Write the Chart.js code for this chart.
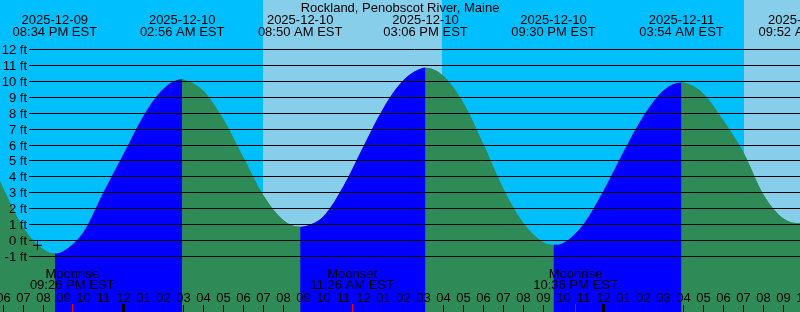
<!DOCTYPE html>
<html>
<head>
<meta charset="utf-8">
<script src="https://cdn.jsdelivr.net/npm/chart.js@4.4.1/dist/chart.umd.min.js"></script>
<style>
  html, body { margin: 0; padding: 0; background: #00bfff; }
  canvas { display: block; }
</style>
</head>
<body>
<canvas id="tideChart" width="800" height="312"></canvas>
<script>
// all times are hours after 2025-12-10 00:00 EST
const stationName = "Rockland, Penobscot River, Maine";

const tideHours = [-8, -7, -6, -5, -4, -3.433, -3, -2, -1, 0, 1, 2, 2.933,
  3, 4, 5, 6, 7, 8, 8.833, 9, 10, 11, 12, 13, 14, 15, 15.1,
  16, 17, 18, 19, 20, 21, 21.5, 22, 23, 24, 25, 26, 27, 27.9,
  28, 29, 30, 31, 32, 33, 33.867, 34];
const tideFeet = [8.35, 6.0, 3.2, 0.75, -0.6, -0.85, -0.7, 0.5, 3.0, 5.4, 7.8, 9.5, 10.1,
  10.09, 9.37, 7.57, 5.17, 2.8, 1.25, 0.83, 0.85, 1.5, 3.4, 5.9, 8.3, 10.05, 10.82, 10.83,
  10.3, 8.6, 6.0, 3.2, 1.05, -0.15, -0.3, -0.18, 1.0, 3.1, 5.55, 7.8, 9.4, 9.9,
  9.89, 9.18, 7.5, 5.5, 2.85, 1.35, 1.05, 1.07];

// high / low labels along the top
const extremeHours = [-3.433, 2.933, 8.833, 15.1, 21.5, 27.9, 33.867];
const extremeDates = ["2025-12-09", "2025-12-10", "2025-12-10", "2025-12-10", "2025-12-10", "2025-12-11", "2025-12-11"];
const extremeTimes = ["08:34 PM EST", "02:56 AM EST", "08:50 AM EST", "03:06 PM EST", "09:30 PM EST", "03:54 AM EST", "09:52 AM EST"];

const sunriseHours = [6.985, 31.02];
const sunsetHours = [15.935, 40];

const moonHours = [-2.567, 11.433, 22.6];
const moonEvents = ["Moonrise", "Moonset", "Moonrise"];
const moonTimes = ["09:26 PM EST", "11:26 AM EST", "10:36 PM EST"];

const feetTicks = [12, 11, 10, 9, 8, 7, 6, 5, 4, 3, 2, 1, 0, -1];
const firstHour = -6, lastHour = 34;

const nowMark = [{x: -4.3, y: -0.33}];

const NIGHT = "#00bfff", DAY = "#87ceeb";
const RISING = "#0000ff", FALLING = "#2e8b57";
const FONT = '13px "Liberation Sans", Arial, sans-serif';

function hourLabel(h) {
  const hh = ((h % 24) + 24) % 24;
  const v = (hh % 12) || 12;
  return (v < 10 ? "0" : "") + v;
}

const tideDecor = {
  id: "tideDecor",
  beforeDatasetsDraw(chart) {
    const {ctx, chartArea: a} = chart;
    const xs = chart.scales.x;
    ctx.save();
    ctx.fillStyle = NIGHT;
    ctx.fillRect(a.left, a.top, a.width, a.height);
    ctx.fillStyle = DAY;
    for (let i = 0; i < sunriseHours.length; i++) {
      const x0 = Math.round(xs.getPixelForValue(sunriseHours[i]));
      const x1 = Math.round(xs.getPixelForValue(sunsetHours[i]));
      ctx.fillRect(x0, a.top, x1 - x0, a.height);
    }
    ctx.restore();
  },
  afterDatasetsDraw(chart) {
    const {ctx, chartArea: a} = chart;
    const xs = chart.scales.x, ys = chart.scales.y;
    ctx.save();
    ctx.font = FONT;
    ctx.fillStyle = "#000";
    ctx.strokeStyle = "#000";
    ctx.lineWidth = 1;

    // foot lines and labels
    feetTicks.forEach(v => {
      const py = Math.round(ys.getPixelForValue(v)) + 0.5;
      ctx.beginPath();
      ctx.moveTo(29, py);
      ctx.lineTo(a.right, py);
      ctx.stroke();
      ctx.textAlign = "right";
      ctx.fillText(v + " ft", 27, Math.round(py + 4.5));
    });

    // title and tide extremes
    ctx.textAlign = "center";
    ctx.fillText(stationName, 400, 12);
    extremeHours.forEach((t, i) => {
      const px = xs.getPixelForValue(t);
      ctx.fillText(extremeDates[i], px, 24);
      ctx.fillText(extremeTimes[i], px, 36);
    });

    // moon events
    moonHours.forEach((t, i) => {
      const px = xs.getPixelForValue(t);
      ctx.fillText(moonEvents[i], px, 278);
      ctx.fillText(moonTimes[i], px, 289);
    });

    // hour ticks
    for (let h = firstHour; h <= lastHour; h++) {
      const col = Math.floor(xs.getPixelForValue(h));
      ctx.fillText(hourLabel(h), col + 0.5, 302);
      if (h % 24 === 0) ctx.fillRect(col - 1, 304, 3, 8);
      else ctx.fillRect(col, 305, 1, 7);
    }
    ctx.fillStyle = "#ff0000";
    moonHours.forEach(t => {
      const col = Math.floor(xs.getPixelForValue(t));
      ctx.fillRect(col, 304, 1, 8);
    });
    ctx.restore();
  }
};

const tidePoints = tideHours.map((t, i) => ({x: t, y: tideFeet[i]}));

new Chart("tideChart", {
  type: "line",
  data: {
    datasets: [{
      data: nowMark,
      showLine: false,
      pointStyle: "cross",
      pointRadius: 4.5,
      borderColor: "#000",
      borderWidth: 1,
      order: 0
    }, {
      // rising water blue, falling water green
      data: tidePoints,
      fill: "start",
      cubicInterpolationMode: "monotone",
      pointRadius: 0,
      borderWidth: 0,
      borderColor: "rgba(0,0,0,0)",
      backgroundColor: FALLING,
      segment: {
        backgroundColor: c => c.p1.parsed.y > c.p0.parsed.y ? RISING : FALLING
      },
      order: 1
    }, {
      // plain underlay so no seam shows where the colours meet
      data: tidePoints,
      fill: "start",
      cubicInterpolationMode: "monotone",
      pointRadius: 0,
      borderWidth: 0,
      borderColor: "rgba(0,0,0,0)",
      backgroundColor: FALLING,
      order: 2
    }]
  },
  options: {
    responsive: false,
    devicePixelRatio: 1,
    animation: false,
    layout: { padding: 0, autoPadding: false },
    scales: {
      x: { type: "linear", min: -6.175, max: 33.825, display: false },
      y: { min: -4.52, max: 15.08, display: false }
    },
    plugins: {
      legend: { display: false },
      tooltip: { enabled: false }
    }
  },
  plugins: [tideDecor]
});
</script>
</body>
</html>
